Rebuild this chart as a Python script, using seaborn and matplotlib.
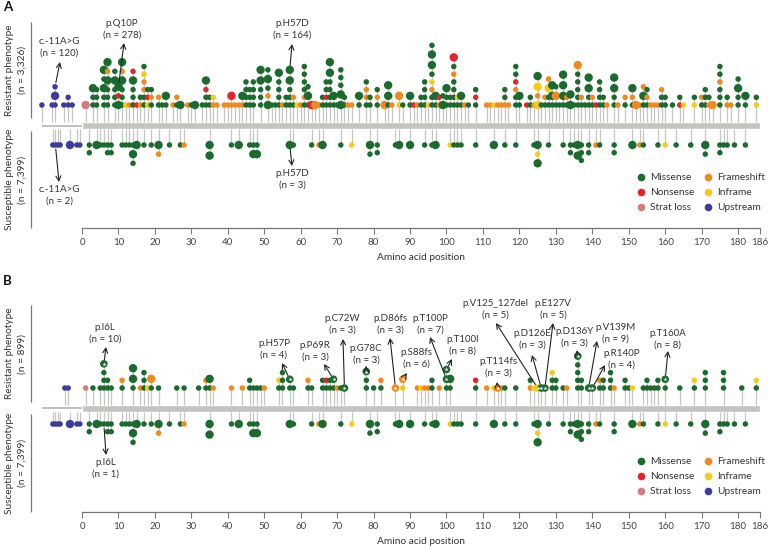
import numpy as np
import pandas as pd
import matplotlib
matplotlib.use("Agg")
from matplotlib import pyplot as plt
from matplotlib.lines import Line2D
import seaborn as sns

sns.set_style("white")
plt.rcParams['font.family'] = ['Lato', 'DejaVu Sans']

# mutation types and colours
type_names = ['Missense', 'Nonsense', 'Strat loss', 'Frameshift', 'Inframe', 'Upstream']
type_colors = ['#1b6a2e', '#e4232a', '#d57b7b', '#f08a1e', '#f6ca1a', '#3d3c9c']
code_type = {'m': 'Missense', 'n': 'Nonsense', 's': 'Strat loss', 'f': 'Frameshift',
             'i': 'Inframe', 'u': 'Upstream', 'x': 'Missense', 'y': 'Frameshift', 'z': 'Inframe'}

protein_length = 186
upstream_start = -11
xticks = [0, 10, 20, 30, 40, 50, 60, 70, 80, 90, 100, 110, 120, 130, 140, 150, 160, 170, 180, 186]

# stacks are read bottom (next to the bar) -> outwards
# lower case = small dot, upper case = large dot, x/y/z = highlighted variant
a_res_pos = [-11, -8.2, -7.4, -5, -3.8, -2.7,
             1, 3, 4, 6, 7, 9, 10, 11, 12, 13, 14, 15, 16, 17, 18, 19, 21, 22, 23, 25, 26, 27,
             29, 30, 31, 33, 34, 35, 36, 37, 39, 40, 41, 42, 43, 44, 45, 46, 47, 49, 51, 52, 53,
             54, 55, 56, 57, 58, 59, 60, 61, 62, 63, 64, 65, 66, 67, 68, 69, 70, 71, 72, 73, 74,
             76, 78, 79, 81, 83, 84, 85, 87, 88, 90, 91, 92, 93, 94, 95, 96, 97, 98, 99, 100,
             101, 102, 103, 104, 105, 106, 108, 111, 112, 113, 114, 115, 116, 117, 119, 120,
             122, 123, 124, 125, 126, 127, 128, 129, 130, 131, 132, 133, 134, 135, 136, 137,
             138, 139, 140, 141, 142, 143, 144, 146, 147, 149, 151, 152, 153, 154, 155, 156,
             157, 158, 159, 160, 162, 164, 165, 168, 170, 171, 172, 173, 175, 177, 178, 180,
             182, 185]
a_res_stack = ["u", "u", "uUu", "u", "uu", "u",
               "S", "mmM", "mmm", "mmMmM", "mmmMfM", "mmmMm", "MnM", "mmmMfM", "i", "f", "mmmMn",
               "n", "fm", "mmffim", "inm", "mfm", "mf", "m", "mM", "f", "mf", "M",
               "f", "m", "M", "m", "mmnM", "mm", "fi", "f", "f", "f", "fN", "f", "f", "fM", "mmmm",
               "mmm", "mmmm", "mmmMM", "MfmMm", "m", "m",
               "mmmmM", "f", "mm", "mmmMM", "mf", "i", "f", "mfmmmm", "mMm", "N", "F", "f", "mm",
               "mnmm", "mmmmMM", "mM", "m", "MMmmm", "mm", "f", "f",
               "mM", "mffm", "mm", "mfm", "F", "mMM", "f", "iF", "m", "mM", "n", "f", "mm", "mmmm",
               "i", "mmfimMMm", "mM", "fn", "Mm", "mmM",
               "mm", "mmmmfmN", "mi", "mM", "f", "m", "mnm", "f", "f", "i", "f", "f", "fmm", "f",
               "mmfnmm", "mM",
               "n", "mm", "f", "IfIM", "m", "mf", "mmIf", "mMM", "mFm", "m", "mMMM", "mf", "MM",
               "m", "mmmmmF", "mf",
               "m", "mmMM", "mf", "n", "mmmm", "mm", "f", "mmMM", "f", "mf", "mfM", "F", "f",
               "mMf", "mfm", "f",
               "f", "f", "mmf", "mm", "m", "nm", "i", "im", "mf", "mmm", "fm", "F", "mmmfmm", "fm",
               "f", "mmMm",
               "mM", "im"]

# susceptible isolates are the same set (n = 7,399) in both panels
sus_pos = [-8, -7.3, -6.6, -6, -3.3, -1.4, -0.6,
           2, 4, 5, 6, 7, 8, 11, 12, 13, 14, 15, 17, 19, 21, 24, 27, 28, 35, 41, 43, 46, 47, 48,
           57, 58, 63, 65, 66, 71, 74, 79, 81, 86, 87, 90, 94, 96, 97, 101, 102, 103, 104, 108,
           113, 116, 119, 124, 125, 128, 132, 134, 135, 136, 137, 139, 141, 142, 146, 151, 153,
           154, 158, 160, 163, 167, 171, 175, 176, 177, 179, 182]
sus_stack = ["u", "u", "u", "u", "U", "u", "u",
             "mm", "M", "m", "m", "mm", "mm", "m", "m", "m", "mMm", "M", "m", "m", "Mf", "m", "m",
             "f", "MM", "m", "M", "m", "mM", "mM",
             "M", "m", "m", "f", "M", "m", "i", "Mm", "mm", "m", "M", "M", "m", "m", "M", "i", "m",
             "m", "m", "m",
             "M", "m", "m", "m", "MiM", "m", "m", "mm", "m", "MM", "mmm", "mm", "f", "m", "mm",
             "M", "f",
             "m", "m", "i", "m", "m", "Mm", "mm", "m", "m", "m", "m"]

b_res_pos = [-4.7, -3.8,
             1, 3, 5, 6, 7, 8, 11, 14, 16, 17, 18, 19, 21, 26, 28, 32, 34, 35, 36, 41, 44, 46, 47,
             48, 49, 50, 54, 55, 57, 58, 62, 63, 66, 67, 68, 69, 70, 71, 72, 78, 80, 82, 86, 88,
             92, 93, 94, 95, 96, 98, 100, 101, 108, 111, 113, 114, 115, 116, 119, 123, 124, 125,
             126, 127, 129, 130, 132, 133, 136, 137, 139, 140, 142, 143, 145, 146, 149, 150,
             151, 154, 155, 156, 157, 158, 160, 164, 168, 171, 176, 181, 185]
b_res_stack = ["u", "u",
               "s", "m", "m", "mmmx", "mm", "m", "mf", "mMM", "f", "mmm", "i", "mF", "m", "m", "m",
               "m", "mf", "mM", "f", "f", "f", "mm", "m",
               "m", "m", "f", "mi", "mmm", "mx", "m", "mf", "m", "mm", "mn", "mm", "mx", "f", "m",
               "x", "mmx", "m", "mf", "y", "iy",
               "f", "i", "f", "f", "mm", "f", "mxx", "mM", "mn", "f", "i", "y", "f", "m", "m", "fm",
               "i", "z",
               "x", "x", "mmi", "mm", "m", "f", "mmmmx", "mm", "x", "x", "mf", "mm", "mmm", "f",
               "mm", "m",
               "i", "m", "mm", "m", "m", "mm", "mx", "m", "mi", "mmm", "mmm", "m", "mi"]

# annotations: label, position, side, dot level
a_ann_labels = ['c.-11A>G\n(n = 120)', 'p.Q10P\n(n = 278)', 'p.H57D\n(n = 164)',
                'c.-11A>G\n(n = 2)', 'p.H57D\n(n = 3)']
a_ann_pos = [-7.4, 10, 57, -7.3, 57]
a_ann_side = ['res', 'res', 'res', 'sus', 'sus']
a_ann_level = [2, 2, 4, 0, 0]

b_ann_labels = ['p.I6L\n(n = 10)', 'p.H57P\n(n = 4)', 'p.P69R\n(n = 3)', 'p.C72W\n(n = 3)',
                'p.G78C\n(n = 3)', 'p.D86fs\n(n = 3)', 'p.S88fs\n(n = 6)', 'p.T100P\n(n = 7)',
                'p.T100I\n(n = 8)', 'p.V125_127del\n(n = 5)', 'p.T114fs\n(n = 3)',
                'p.D126E\n(n = 3)', 'p.E127V\n(n = 5)', 'p.D136Y\n(n = 3)', 'p.V139M\n(n = 9)',
                'p.R140P\n(n = 4)', 'p.T160A\n(n = 8)', 'p.I6L\n(n = 1)']
b_ann_pos = [6, 57, 69, 72, 78, 86, 88, 100, 100, 125, 114, 126, 127, 136, 139, 140, 160, 6]
b_ann_side = ['res'] * 17 + ['sus']
b_ann_level = [3, 1, 1, 0, 2, 0, 1, 1, 2, 0, 0, 0, 0, 4, 0, 0, 1, 0]

# ---- layout (figure pixels) ----
X0_PX = 82
PX_PER_AA = 3.645
size_px = {'small': 5.5, 'big': 8.4, 'hl': 7.6}
GAP = 2.2


def px2x(p):
    return (p - X0_PX) / PX_PER_AA


def size_class(c):
    if c in 'xyz':
        return 'hl'
    return 'big' if c.isupper() else 'small'


def stack_frame(pos_list, stack_list, base, direction):
    recs = []
    for p, st in zip(pos_list, stack_list):
        y = base
        prev = None
        for k, c in enumerate(st):
            cls = size_class(c)
            d = size_px[cls]
            if prev is not None:
                y += direction * ((prev + d) / 2 + GAP)
            recs.append({'pos': p, 'y': y, 'type': code_type[c.lower()], 'cls': cls, 'level': k})
            prev = d
    return pd.DataFrame(recs)


palette = dict(zip(type_names, type_colors))
size_pt2 = {k: (v * 0.72) ** 2 for k, v in size_px.items()}


def draw_panel(ax, res_df, sus_df, bar_y, axis_y, ann_labels, ann_pos, ann_side, ann_level,
               text_px, head_px):
    # protein bar and upstream line
    ax.barh(bar_y, protein_length, left=0, height=7, color='#c3c4be', zorder=1)
    ax.hlines(bar_y, upstream_start, 0, color='#b5b6b0', lw=1.2, zorder=1)
    # stems
    for df, edge in [(res_df, bar_y - 3.5), (sus_df, bar_y + 3.5)]:
        far = df.groupby('pos')['y'].agg(lambda s: s.iloc[-1])
        ax.vlines(far.index, edge, far.values, color='#c6c6c2', lw=0.9, zorder=1)
    both = pd.concat([res_df, sus_df], ignore_index=True)
    sns.scatterplot(data=both, x='pos', y='y', hue='type', palette=palette, size='cls',
                    sizes=size_pt2, linewidth=0, legend=False, ax=ax, zorder=3)
    hl = both[both['cls'] == 'hl']
    ax.scatter(hl['pos'], hl['y'], marker='*', s=9, color='white', linewidth=0, zorder=4)

    for lab, p, side, lev, t, h in zip(ann_labels, ann_pos, ann_side, ann_level, text_px, head_px):
        df = res_df if side == 'res' else sus_df
        row = df[(df['pos'] == p) & (df['level'] == lev)].iloc[0]
        ax.text(px2x(t[0]), t[1], lab, ha='center', va='center', fontsize=7, color='#333333',
                linespacing=1.35)
        ax.annotate('', xy=(px2x(h[0]), h[1]), xytext=(row['pos'], row['y']),
                    arrowprops=dict(arrowstyle='->,head_length=0.35,head_width=0.18',
                                    color='#222222', lw=0.8, shrinkA=3, shrinkB=0))

    ax.spines[['top', 'right', 'left']].set_visible(False)
    ax.spines['bottom'].set_position(('data', axis_y))
    ax.spines['bottom'].set_bounds(0, protein_length)
    ax.spines['bottom'].set_color('#777777')
    ax.spines['bottom'].set_linewidth(0.9)
    ax.set_xticks(xticks)
    ax.tick_params(axis='x', direction='out', length=4, width=0.8, color='#777777',
                   labelsize=7, labelcolor='#444444', pad=3, bottom=True)
    ax.set_yticks([])
    ax.set_xlabel('')
    ax.set_ylabel('')
    ax.text(protein_length / 2, axis_y + 30, 'Amino acid position', ha='center', va='center',
            fontsize=7.3, color='#333333')

    handles = [Line2D([], [], marker='o', ls='', markerfacecolor=c, markeredgewidth=0,
                      markersize=5.5, label=n) for n, c in zip(type_names, type_colors)]
    ax.legend(handles=handles, ncol=2, frameon=False, loc='upper left',
              bbox_to_anchor=(px2x(637), axis_y - 55), bbox_transform=ax.transData,
              fontsize=7.3, handlelength=0.8, handletextpad=0.5, columnspacing=0.9,
              labelspacing=0.6, borderpad=0, borderaxespad=0, labelcolor='#333333')


fig = plt.figure(figsize=(7.68, 5.48), dpi=100)
axA = fig.add_axes([0, 0.5, 1, 0.5])
axB = fig.add_axes([0, 0, 1, 0.5])
for ax, top in [(axA, 0), (axB, 274)]:
    ax.set_xlim(px2x(0), px2x(768))
    ax.set_ylim(top + 274, top)
    ax.patch.set_alpha(0)

a_res = stack_frame(a_res_pos, a_res_stack, 105, -1)
a_sus = stack_frame(sus_pos, sus_stack, 145, 1)
b_res = stack_frame(b_res_pos, b_res_stack, 388, -1)
b_sus = stack_frame(sus_pos, sus_stack, 424, 1)

a_text_px = [(59, 47), (122, 29), (292, 29), (59, 195), (292, 179)]
a_head_px = [(60, 62), (124, 43), (292, 44), (59, 182), (292, 166)]
b_text_px = [(105, 333), (274, 349), (315, 351), (342, 324), (366, 354), (390, 324), (416, 358),
             (430, 324), (463, 345), (495, 309), (498, 367), (532, 339), (553, 309), (574, 337),
             (615, 333), (622, 359), (668, 339), (106, 468)]
b_head_px = [(106, 347), (282, 363), (324, 364), (343, 339), (366, 366), (390, 338), (407, 373),
             (430, 337), (452, 359), (496, 323), (497, 382), (532, 355), (553, 323), (577, 350),
             (597, 341), (605, 365), (668, 351), (106, 455)]

draw_panel(axA, a_res, a_sus, 125.5, 228, a_ann_labels, a_ann_pos, a_ann_side, a_ann_level,
           a_text_px, a_head_px)
draw_panel(axB, b_res, b_sus, 408, 512, b_ann_labels, b_ann_pos, b_ann_side, b_ann_level,
           b_text_px, b_head_px)

# side labels
for ax, top, (r0, r1), (s0, s1), n_res in [(axA, 0, (22, 118), (131, 228), '3,326'),
                                           (axB, 274, (305, 402), (414, 512), '899')]:
    lx = px2x(30.5)
    ax.vlines(lx, r0, r1, color='#777777', lw=0.9)
    ax.vlines(lx, s0, s1, color='#777777', lw=0.9)
    ax.text(px2x(16), (r0 + r1) / 2, 'Resistant phenotype\n(n = %s)' % n_res, rotation=90,
            ha='center', va='center', fontsize=7.3, color='#333333', linespacing=1.5)
    ax.text(px2x(16), (s0 + s1) / 2, 'Susceptible phenotype\n(n = 7,399)', rotation=90,
            ha='center', va='center', fontsize=7.3, color='#333333', linespacing=1.5)
    ax.text(px2x(3), top + 7, 'A' if top == 0 else 'B', ha='left', va='center',
            fontsize=9.5, fontweight='bold', color='#111111')

fig.savefig('out.png', dpi=100)
